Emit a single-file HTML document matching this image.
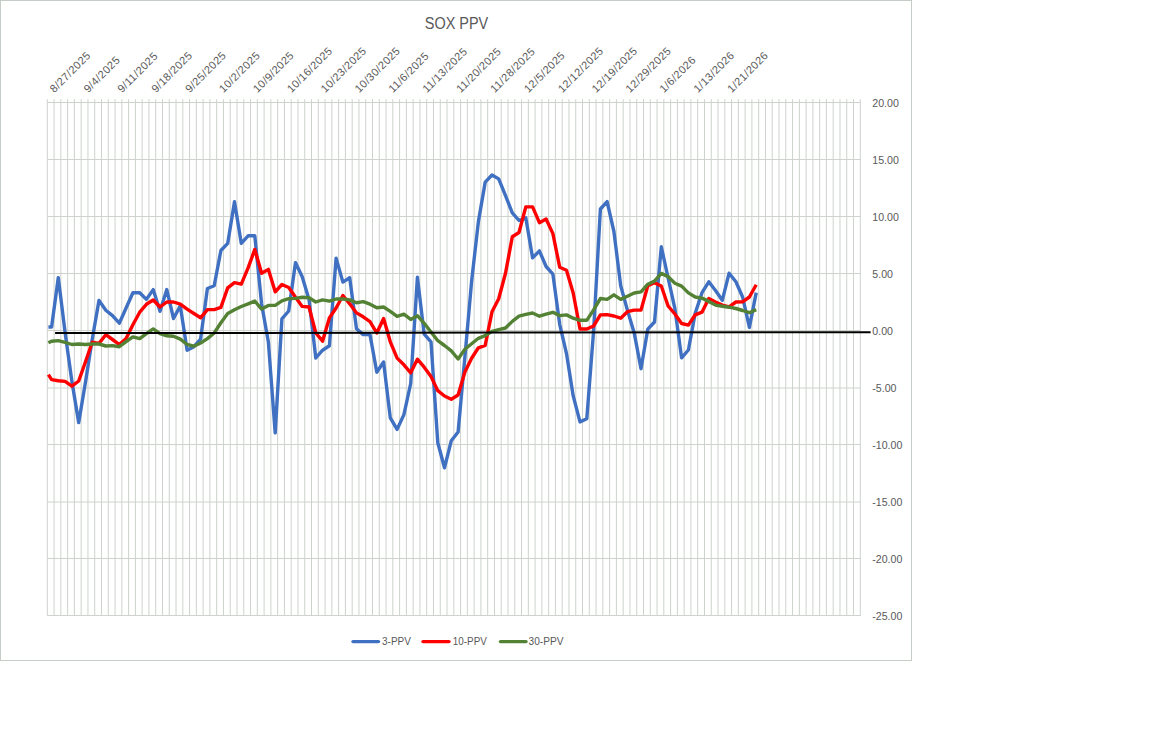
<!DOCTYPE html>
<html><head><meta charset="utf-8"><title>SOX PPV</title>
<style>
html,body{margin:0;padding:0;background:#fff;}
body{width:1152px;height:737px;overflow:hidden;position:relative;font-family:"Liberation Sans",sans-serif;}
svg{position:absolute;left:0;top:0;}
text{font-family:"Liberation Sans",sans-serif;fill:#595959;}
</style></head><body>
<svg width="1152" height="737" viewBox="0 0 1152 737">
<rect x="0" y="0" width="1152" height="737" fill="#fff"/>
<rect x="0.5" y="0.5" width="911" height="660" fill="#fff" stroke="#c6cdc6" stroke-width="1"/>

<path d="M47.30 99.2V615.9M54.07 99.2V615.9M60.85 99.2V615.9M67.62 99.2V615.9M74.40 99.2V615.9M81.17 99.2V615.9M87.95 99.2V615.9M94.72 99.2V615.9M101.50 99.2V615.9M108.28 99.2V615.9M115.05 99.2V615.9M121.83 99.2V615.9M128.60 99.2V615.9M135.38 99.2V615.9M142.15 99.2V615.9M148.93 99.2V615.9M155.70 99.2V615.9M162.48 99.2V615.9M169.25 99.2V615.9M176.02 99.2V615.9M182.80 99.2V615.9M189.57 99.2V615.9M196.35 99.2V615.9M203.12 99.2V615.9M209.90 99.2V615.9M216.68 99.2V615.9M223.45 99.2V615.9M230.23 99.2V615.9M237.00 99.2V615.9M243.78 99.2V615.9M250.55 99.2V615.9M257.32 99.2V615.9M264.10 99.2V615.9M270.88 99.2V615.9M277.65 99.2V615.9M284.43 99.2V615.9M291.20 99.2V615.9M297.98 99.2V615.9M304.75 99.2V615.9M311.53 99.2V615.9M318.30 99.2V615.9M325.08 99.2V615.9M331.85 99.2V615.9M338.62 99.2V615.9M345.40 99.2V615.9M352.18 99.2V615.9M358.95 99.2V615.9M365.73 99.2V615.9M372.50 99.2V615.9M379.28 99.2V615.9M386.05 99.2V615.9M392.83 99.2V615.9M399.60 99.2V615.9M406.38 99.2V615.9M413.15 99.2V615.9M419.93 99.2V615.9M426.70 99.2V615.9M433.48 99.2V615.9M440.25 99.2V615.9M447.03 99.2V615.9M453.80 99.2V615.9M460.58 99.2V615.9M467.35 99.2V615.9M474.13 99.2V615.9M480.90 99.2V615.9M487.68 99.2V615.9M494.45 99.2V615.9M501.23 99.2V615.9M508.00 99.2V615.9M514.77 99.2V615.9M521.55 99.2V615.9M528.33 99.2V615.9M535.10 99.2V615.9M541.88 99.2V615.9M548.65 99.2V615.9M555.42 99.2V615.9M562.20 99.2V615.9M568.98 99.2V615.9M575.75 99.2V615.9M582.52 99.2V615.9M589.30 99.2V615.9M596.07 99.2V615.9M602.85 99.2V615.9M609.62 99.2V615.9M616.40 99.2V615.9M623.17 99.2V615.9M629.95 99.2V615.9M636.73 99.2V615.9M643.50 99.2V615.9M650.27 99.2V615.9M657.05 99.2V615.9M663.82 99.2V615.9M670.60 99.2V615.9M677.38 99.2V615.9M684.15 99.2V615.9M690.92 99.2V615.9M697.70 99.2V615.9M704.48 99.2V615.9M711.25 99.2V615.9M718.02 99.2V615.9M724.80 99.2V615.9M731.58 99.2V615.9M738.35 99.2V615.9M745.12 99.2V615.9M751.90 99.2V615.9M758.67 99.2V615.9M765.45 99.2V615.9M772.23 99.2V615.9M779.00 99.2V615.9M785.77 99.2V615.9M792.55 99.2V615.9M799.33 99.2V615.9M806.10 99.2V615.9M812.88 99.2V615.9M819.65 99.2V615.9M826.42 99.2V615.9M833.20 99.2V615.9M839.98 99.2V615.9M846.75 99.2V615.9M853.52 99.2V615.9M860.30 99.2V615.9M47.3 102.5H860.3M47.3 159.5H860.3M47.3 216.5H860.3M47.3 273.5H860.3M47.3 330.5H860.3M47.3 388.0H860.3M47.3 444.5H860.3M47.3 502.0H860.3M47.3 558.5H860.3M47.3 615.5H860.3" stroke="#cdd2cd" stroke-width="1" fill="none"/>
<text x="456.5" y="28.5" font-size="15.6" text-anchor="middle" textLength="63.5" lengthAdjust="spacingAndGlyphs">SOX PPV</text>
<text font-size="11" transform="translate(54.3,93.3) rotate(-45)" letter-spacing="0.4">8/27/2025</text>
<text font-size="11" transform="translate(88.2,93.3) rotate(-45)" letter-spacing="0.4">9/4/2025</text>
<text font-size="11" transform="translate(122.0,93.3) rotate(-45)" letter-spacing="0.4">9/11/2025</text>
<text font-size="11" transform="translate(155.9,93.3) rotate(-45)" letter-spacing="0.4">9/18/2025</text>
<text font-size="11" transform="translate(189.8,93.3) rotate(-45)" letter-spacing="0.4">9/25/2025</text>
<text font-size="11" transform="translate(223.6,93.3) rotate(-45)" letter-spacing="0.4">10/2/2025</text>
<text font-size="11" transform="translate(257.5,93.3) rotate(-45)" letter-spacing="0.4">10/9/2025</text>
<text font-size="11" transform="translate(291.4,93.3) rotate(-45)" letter-spacing="0.4">10/16/2025</text>
<text font-size="11" transform="translate(325.3,93.3) rotate(-45)" letter-spacing="0.4">10/23/2025</text>
<text font-size="11" transform="translate(359.2,93.3) rotate(-45)" letter-spacing="0.4">10/30/2025</text>
<text font-size="11" transform="translate(393.0,93.3) rotate(-45)" letter-spacing="0.4">11/6/2025</text>
<text font-size="11" transform="translate(426.9,93.3) rotate(-45)" letter-spacing="0.4">11/13/2025</text>
<text font-size="11" transform="translate(460.8,93.3) rotate(-45)" letter-spacing="0.4">11/20/2025</text>
<text font-size="11" transform="translate(494.7,93.3) rotate(-45)" letter-spacing="0.4">11/28/2025</text>
<text font-size="11" transform="translate(528.5,93.3) rotate(-45)" letter-spacing="0.4">12/5/2025</text>
<text font-size="11" transform="translate(562.4,93.3) rotate(-45)" letter-spacing="0.4">12/12/2025</text>
<text font-size="11" transform="translate(596.3,93.3) rotate(-45)" letter-spacing="0.4">12/19/2025</text>
<text font-size="11" transform="translate(630.1,93.3) rotate(-45)" letter-spacing="0.4">12/29/2025</text>
<text font-size="11" transform="translate(664.0,93.3) rotate(-45)" letter-spacing="0.4">1/6/2026</text>
<text font-size="11" transform="translate(697.9,93.3) rotate(-45)" letter-spacing="0.4">1/13/2026</text>
<text font-size="11" transform="translate(731.8,93.3) rotate(-45)" letter-spacing="0.4">1/21/2026</text>
<text x="872.3" y="106.8" font-size="10.6">20.00</text>
<text x="872.3" y="163.8" font-size="10.6">15.00</text>
<text x="872.3" y="220.8" font-size="10.6">10.00</text>
<text x="872.3" y="277.8" font-size="10.6">5.00</text>
<text x="872.3" y="334.8" font-size="10.6">0.00</text>
<text x="872.3" y="391.8" font-size="10.6">-5.00</text>
<text x="872.3" y="448.8" font-size="10.6">-10.00</text>
<text x="872.3" y="505.8" font-size="10.6">-15.00</text>
<text x="872.3" y="562.8" font-size="10.6">-20.00</text>
<text x="872.3" y="619.8" font-size="10.6">-25.00</text>
<polyline points="48.4,327.0 51.6,327.0 58.3,277.6 65.1,332.5 71.9,381.4 78.7,422.6 85.5,382.0 92.2,339.5 99.0,300.4 105.8,310.2 112.5,315.6 119.3,323.2 126.1,308.0 132.9,292.8 139.7,292.8 146.4,299.4 153.2,289.6 160.0,311.3 166.8,289.6 173.5,318.5 180.3,305.9 187.1,350.3 193.9,346.7 200.6,339.0 207.4,288.5 214.2,285.7 220.9,250.5 227.7,243.4 234.5,201.7 241.3,243.4 248.1,235.8 254.8,235.8 261.6,304.0 268.4,342.3 275.2,432.8 281.9,318.8 288.7,311.0 295.5,262.6 302.2,276.7 309.0,299.4 315.8,358.0 322.6,350.2 329.4,345.8 336.1,258.2 342.9,282.1 349.7,277.7 356.5,328.7 363.2,334.6 370.0,334.6 376.8,372.2 383.6,362.0 390.3,417.9 397.1,429.4 403.9,414.6 410.7,383.5 417.4,277.3 424.2,334.2 431.0,341.8 437.8,442.8 444.5,467.8 451.3,440.7 458.1,432.0 464.9,357.0 471.6,281.3 478.4,221.6 485.2,182.1 492.0,175.0 498.7,178.9 505.5,195.6 512.3,212.9 519.0,220.5 525.8,217.7 532.6,257.9 539.4,250.9 546.1,266.5 552.9,274.2 559.7,324.3 566.5,353.6 573.2,395.9 580.0,421.9 586.8,418.7 593.6,330.8 600.4,209.0 607.1,201.6 613.9,231.5 620.7,285.7 627.4,310.1 634.2,332.9 641.0,368.7 647.8,329.1 654.5,322.0 661.3,246.8 668.1,277.9 674.9,308.7 681.6,357.8 688.4,350.0 695.2,313.3 702.0,292.7 708.8,281.8 715.5,290.5 722.3,300.3 729.1,273.2 735.9,281.8 742.6,297.0 749.4,327.4 756.2,292.7" fill="none" stroke="#4070c2" stroke-width="3.4" stroke-linejoin="round" stroke-linecap="butt"/>
<polyline points="48.4,374.6 51.6,379.6 58.3,380.7 65.1,381.4 71.9,386.2 78.7,381.0 85.5,361.8 92.2,342.3 99.0,343.4 105.8,334.7 112.5,339.5 119.3,344.5 126.1,338.6 132.9,324.8 139.7,312.2 146.4,304.3 153.2,300.0 160.0,307.0 166.8,302.0 173.5,302.0 180.3,304.1 187.1,309.1 193.9,313.5 200.6,317.8 207.4,309.6 214.2,309.6 220.9,307.4 227.7,287.9 234.5,282.6 241.3,284.2 248.1,267.9 254.8,249.4 261.6,273.3 268.4,269.4 275.2,291.8 281.9,284.5 288.7,287.5 295.5,297.3 302.2,306.4 309.0,307.0 315.8,333.0 322.6,341.1 329.4,317.9 336.1,308.0 342.9,295.5 349.7,303.8 356.5,312.9 363.2,316.8 370.0,321.6 376.8,333.0 383.6,318.5 390.3,341.8 397.1,358.1 403.9,364.8 410.7,372.8 417.4,359.2 424.2,367.2 431.0,376.6 437.8,390.7 444.5,396.0 451.3,399.2 458.1,395.0 464.9,372.1 471.6,358.2 478.4,347.8 485.2,345.4 492.0,311.8 498.7,298.8 505.5,273.3 512.3,236.7 519.0,232.5 525.8,206.9 532.6,206.9 539.4,222.7 546.1,219.0 552.9,233.6 559.7,267.2 566.5,270.3 573.2,293.0 580.0,329.0 586.8,329.0 593.6,326.0 600.4,314.9 607.1,314.6 613.9,316.0 620.7,318.2 627.4,311.7 634.2,310.1 641.0,310.1 647.8,285.7 654.5,282.7 661.3,286.0 668.1,306.0 674.9,314.0 681.6,323.5 688.4,325.1 695.2,314.8 702.0,312.2 708.8,298.6 715.5,302.0 722.3,305.1 729.1,306.8 735.9,302.0 742.6,301.8 749.4,297.0 756.2,284.7" fill="none" stroke="#ff0000" stroke-width="3.4" stroke-linejoin="round" stroke-linecap="butt"/>
<polyline points="48.4,342.8 51.6,341.2 58.3,340.6 65.1,342.3 71.9,344.5 78.7,344.0 85.5,344.5 92.2,344.0 99.0,344.0 105.8,346.0 112.5,345.6 119.3,346.7 126.1,341.7 132.9,336.9 139.7,338.6 146.4,333.6 153.2,328.9 160.0,333.6 166.8,335.8 173.5,336.2 180.3,339.1 187.1,344.5 193.9,346.2 200.6,343.0 207.4,338.6 214.2,333.0 220.9,322.8 227.7,313.5 234.5,309.8 241.3,306.5 248.1,303.9 254.8,301.1 261.6,309.1 268.4,305.4 275.2,305.4 281.9,300.8 288.7,298.7 295.5,298.4 302.2,297.3 309.0,297.7 315.8,302.0 322.6,299.9 329.4,301.2 336.1,299.0 342.9,299.0 349.7,299.9 356.5,302.7 363.2,301.6 370.0,304.2 376.8,307.7 383.6,307.0 390.3,311.4 397.1,316.4 403.9,314.2 410.7,319.4 417.4,315.7 424.2,323.3 431.0,332.0 437.8,340.7 444.5,345.5 451.3,350.9 458.1,359.0 464.9,349.3 471.6,343.8 478.4,338.3 485.2,335.6 492.0,331.4 498.7,329.7 505.5,328.0 512.3,321.4 519.0,316.2 525.8,314.4 532.6,313.0 539.4,316.2 546.1,314.1 552.9,312.3 559.7,315.6 566.5,314.9 573.2,318.2 580.0,320.3 586.8,320.3 593.6,309.8 600.4,298.5 607.1,299.4 613.9,294.8 620.7,299.4 627.4,296.2 634.2,293.0 641.0,291.8 647.8,284.2 654.5,281.1 661.3,273.4 668.1,276.6 674.9,283.3 681.6,286.1 688.4,292.9 695.2,297.0 702.0,298.1 708.8,301.4 715.5,305.1 722.3,306.2 729.1,307.2 735.9,308.5 742.6,310.5 749.4,312.7 756.2,309.6" fill="none" stroke="#548235" stroke-width="3.4" stroke-linejoin="round" stroke-linecap="butt"/>
<line x1="55.1" y1="333.1" x2="870.6" y2="332.2" stroke="#000" stroke-width="2"/>
<line x1="353" y1="641.6" x2="378.5" y2="641.6" stroke="#4070c2" stroke-width="3.4" stroke-linecap="round"/>
<text x="382" y="645.3" font-size="10.6" textLength="28.9" lengthAdjust="spacingAndGlyphs">3-PPV</text>
<line x1="423" y1="641.6" x2="449" y2="641.6" stroke="#ff0000" stroke-width="3.4" stroke-linecap="round"/>
<text x="452.8" y="645.3" font-size="10.6" textLength="34" lengthAdjust="spacingAndGlyphs">10-PPV</text>
<line x1="500.5" y1="641.6" x2="526" y2="641.6" stroke="#548235" stroke-width="3.4" stroke-linecap="round"/>
<text x="528.5" y="645.3" font-size="10.6" textLength="34.9" lengthAdjust="spacingAndGlyphs">30-PPV</text>
</svg></body></html>
